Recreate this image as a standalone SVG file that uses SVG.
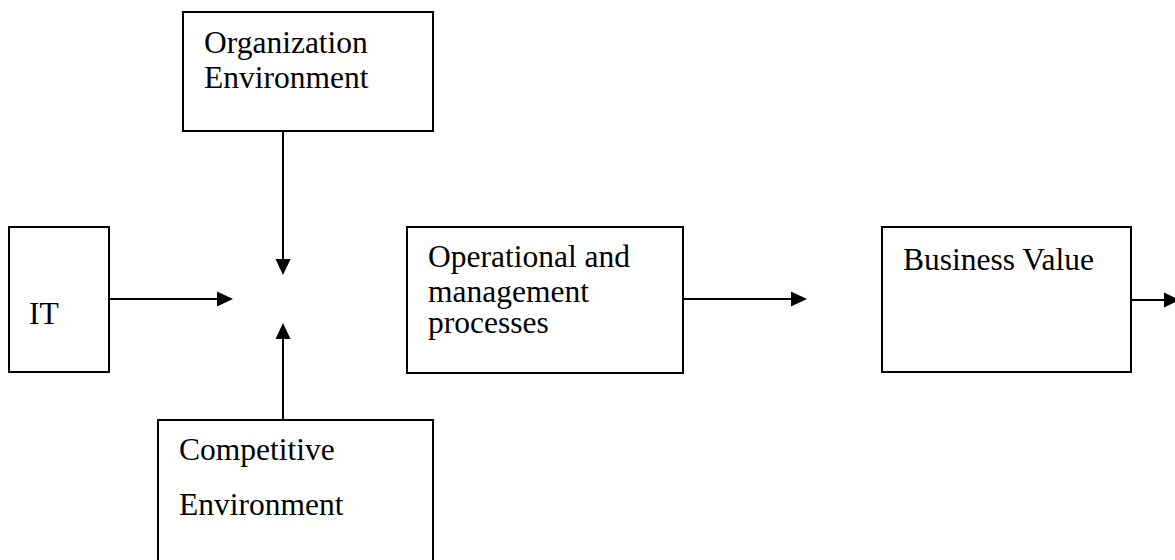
<svg xmlns="http://www.w3.org/2000/svg" width="1175" height="560" viewBox="0 0 1175 560">
  <style>
    .box { fill: #fff; stroke: #000; stroke-width: 2; }
    .lbl { font-family: "Liberation Serif", "Times New Roman", serif; font-size: 31.5px; fill: #000; }
    .edge { stroke: #000; stroke-width: 2; fill: none; }
    .head { fill: #000; }
  </style>
  <rect width="1175" height="560" fill="#fff"/>

  <g id="connectors">
    <!-- Organization Environment down to the junction -->
    <line class="edge" x1="283" y1="131" x2="283" y2="262"/>
    <path class="head" d="M275.5,259 L290.5,259 L283,275 Z"/>
    <!-- IT right to the junction -->
    <line class="edge" x1="109" y1="299" x2="219" y2="299"/>
    <path class="head" d="M217,291.5 L233,299 L217,306.5 Z"/>
    <!-- Competitive Environment up to the junction -->
    <line class="edge" x1="283" y1="420" x2="283" y2="337"/>
    <path class="head" d="M275.5,339 L290.5,339 L283,323 Z"/>
    <!-- processes to Business Value -->
    <line class="edge" x1="683" y1="299" x2="793" y2="299"/>
    <path class="head" d="M791,291.5 L807,299 L791,306.5 Z"/>
    <!-- Business Value outward -->
    <line class="edge" x1="1131" y1="300" x2="1166" y2="300"/>
    <path class="head" d="M1164,292.5 L1180,300 L1164,307.5 Z"/>
  </g>

  <g id="node-org">
    <rect class="box" x="183" y="12" width="250" height="119"/>
    <text class="lbl" x="204" y="53">Organization</text>
    <text class="lbl" x="204" y="88">Environment</text>
  </g>

  <g id="node-it">
    <rect class="box" x="9" y="227" width="100" height="145"/>
    <text class="lbl" x="29" y="324">IT</text>
  </g>

  <g id="node-competitive">
    <rect class="box" x="158" y="420" width="275" height="160"/>
    <text class="lbl" x="179" y="460">Competitive</text>
    <text class="lbl" x="179" y="515">Environment</text>
  </g>

  <g id="node-ops">
    <rect class="box" x="407" y="227" width="276" height="146"/>
    <text class="lbl" x="428" y="267">Operational and</text>
    <text class="lbl" x="428" y="302">management</text>
    <text class="lbl" x="428" y="333">processes</text>
  </g>

  <g id="node-value">
    <rect class="box" x="882" y="227" width="249" height="145"/>
    <text class="lbl" x="903" y="270">Business Value</text>
  </g>
</svg>
